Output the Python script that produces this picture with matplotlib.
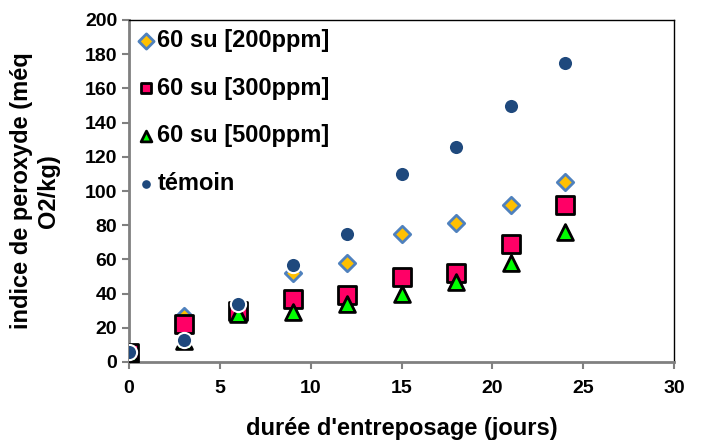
import matplotlib
matplotlib.use("Agg")
import matplotlib.pyplot as plt

plt.rcParams['font.family'] = ['Liberation Sans', 'DejaVu Sans']
plt.rcParams['font.weight'] = 'bold'

# durée d'entreposage (jours)
jours = [0, 3, 6, 9, 12, 15, 18, 21, 24]

# indice de peroxyde (méq O2/kg)
su_200 = [5, 27, 32, 52, 58, 75, 81, 92, 105]
su_300 = [5, 22, 30, 37, 39, 50, 52, 69, 92]
su_500 = [5, 12, 28, 29, 34, 40, 47, 58, 76]
temoin = [6, 13, 34, 57, 75, 110, 126, 150, 175]

fig = plt.figure(figsize=(7.04, 4.42), dpi=100)
ax = fig.add_axes([129 / 704, 80 / 442, 545 / 704, 342 / 442])

ax.scatter(jours, su_200, marker='D', s=70, facecolor='#FFC000', edgecolor='#4F81BD',
           linewidth=2, label='60 su [200ppm]', zorder=3)
ax.scatter(jours, su_300, marker='s', s=150, facecolor='#FF0066', edgecolor='black',
           linewidth=2, label='60 su [300ppm]', zorder=4)
ax.scatter(jours, su_500, marker='^', s=130, facecolor='#00FF00', edgecolor='black',
           linewidth=2, label='60 su [500ppm]', zorder=5)
ax.scatter(jours, temoin, marker='o', s=120, facecolor='#1F497D', edgecolor='white',
           linewidth=1.5, label='témoin', zorder=6)

ax.set_xlim(0, 30)
ax.set_ylim(0, 200)
ax.set_xticks(range(0, 31, 5))
ax.set_yticks(range(0, 201, 20))
ax.tick_params(labelsize=14, direction='out', length=5, color='#808080', width=1.5)
ax.tick_params(axis='x', pad=8)

for side in ['left', 'bottom']:
    ax.spines[side].set_color('#808080')
    ax.spines[side].set_linewidth(2)
for side in ['top', 'right']:
    ax.spines[side].set_color('black')
    ax.spines[side].set_linewidth(1)

ax.set_xlabel("durée d'entreposage (jours)", fontsize=17, fontweight='bold', labelpad=14)
ax.set_ylabel("indice de peroxyde (méq\nO2/kg)", fontsize=17, fontweight='bold', labelpad=18)

leg = ax.legend(loc='upper left', frameon=False, fontsize=17, handletextpad=0.0,
                labelspacing=1.05, borderaxespad=0.0, borderpad=0.2, handlelength=1.0,
                scatterpoints=1, bbox_to_anchor=(0.0, 0.988))
for h in leg.legend_handles:
    h.set_sizes([60])

fig.savefig("out.png", dpi=100)
